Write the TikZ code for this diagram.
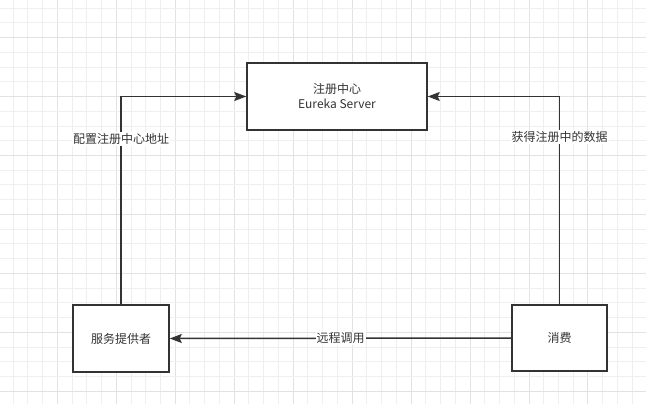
\documentclass[tikz,border=0pt]{standalone}
\usepackage{fontspec}
\setmainfont{Noto Sans CJK SC}
\usetikzlibrary{arrows.meta}
\definecolor{ink}{HTML}{333333}
\definecolor{gridminor}{HTML}{EFEFEF}
\definecolor{gridmajor}{HTML}{E2E2E2}
\tikzset{
  box/.style={draw=ink, line width=1.5pt, fill=white, text=ink, font=\fontsize{12}{15}\selectfont, align=center, inner sep=0pt},
  conn/.style={draw=ink, line width=1.5pt, -{Stealth[length=12pt,width=9pt,inset=2pt]}},
  lbl/.style={fill=white, text=ink, font=\fontsize{12}{14}\selectfont, inner sep=1pt}
}
\begin{document}
\begin{tikzpicture}[x=1pt,y=-1pt]
\useasboundingbox (0,0) rectangle (646,404);
\fill[white] (0,0) rectangle (646,404);
% grid
\foreach \k in {0,...,43} {
  \pgfmathsetmacro{\xx}{13+14.74*\k}
  \pgfmathtruncatemacro{\m}{mod(\k,4)}
  \ifnum\m=3
    \draw[gridmajor, line width=0.8pt] (\xx,0) -- (\xx,404);
  \else
    \draw[gridminor, line width=0.8pt] (\xx,0) -- (\xx,404);
  \fi
}
\foreach \k in {0,...,27} {
  \pgfmathsetmacro{\yy}{8+14.74*\k}
  \pgfmathtruncatemacro{\m}{mod(\k,4)}
  \ifnum\m=2
    \draw[gridmajor, line width=0.8pt] (0,\yy) -- (646,\yy);
  \else
    \draw[gridminor, line width=0.8pt] (0,\yy) -- (646,\yy);
  \fi
}
% nodes
\node[box, minimum width=180pt, minimum height=67pt] (eur) at (337,96.5) {注册中心\\Eureka Server};
\node[box, minimum width=96pt, minimum height=67pt] (prov) at (121,338.5) {服务提供者};
\node[box, minimum width=95pt, minimum height=66pt] (cons) at (559.5,338) {消费};
% connectors
\draw[conn] (prov.north) |- (eur.west);
\draw[conn] (cons.north) |- (eur.east);
\draw[conn] (cons.west) -- (prov.east);
% labels
\node[lbl] (l1) at (121,139) {配置注册中心地址};
\node[lbl] (l2) at (559.5,137) {获得注册中的数据};
\node[lbl] (l3) at (340.5,338.5) {远程调用};
\end{tikzpicture}
\end{document}
